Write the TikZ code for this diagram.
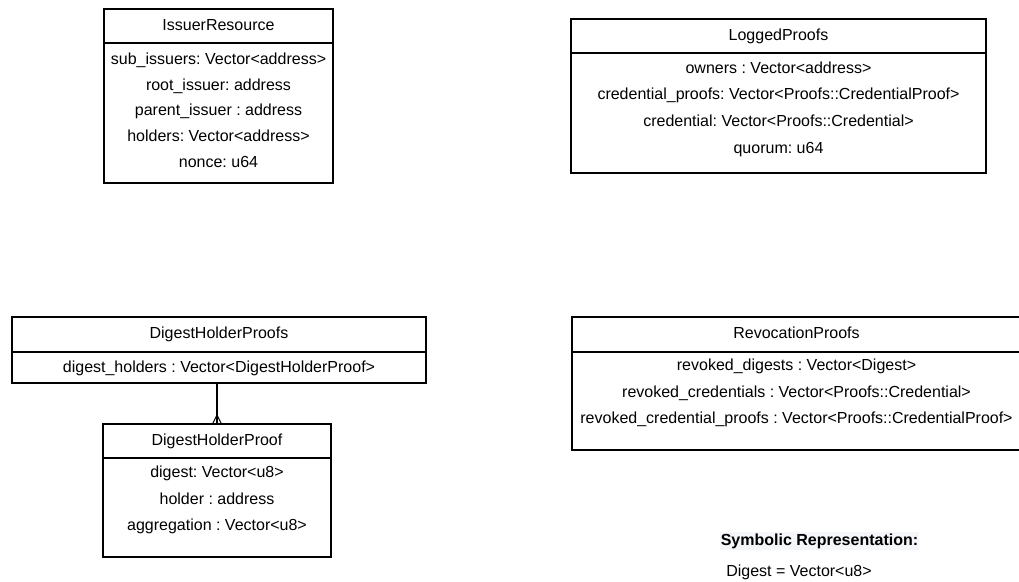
\documentclass[tikz,border=0pt]{standalone}
\usepackage{fontspec}
\setmainfont{Liberation Sans}
\usetikzlibrary{positioning}
\frenchspacing

\definecolor{notebg}{RGB}{245,246,249}

\begin{document}
\begin{tikzpicture}[x=1pt, y=-1pt,
  classhead/.style={draw, line width=1.1pt, outer sep=0pt, inner sep=0pt, minimum height=34pt,
    text height=11.5pt, text depth=3.4pt, font=\fontsize{16}{19}\selectfont},
  classbody/.style={draw, line width=1.1pt, outer sep=0pt, inner sep=0pt},
  fields/.style={align=center, inner sep=0pt, font=\fontsize{16}{#1}\selectfont},
  fields/.default=26.7,
  link/.style={line width=1.1pt}]

\useasboundingbox (0,0) rectangle (1019,581);

\node[classhead, minimum width=229pt] (issuer) at (218.5,26) {IssuerResource};
\node[classbody, minimum width=229pt, minimum height=140pt, below=0pt of issuer] (issuer body) {};
\node[fields=25.75, below=9.5pt of issuer body.north] (issuer fields)
  {sub\_issuers: Vector<address>\\ root\_issuer: address\\ parent\_issuer : address\\
   holders: Vector<address>\\ nonce: u64};

\node[classhead, minimum width=415pt] (logged) at (778.5,36) {LoggedProofs};
\node[classbody, minimum width=415pt, minimum height=120pt, below=0pt of logged] (logged body) {};
\node[fields, below=8.5pt of logged body.north] (logged fields)
  {owners : Vector<address>\\ credential\_proofs: Vector<Proofs::CredentialProof>\\
   credential: Vector<Proofs::Credential>\\ quorum: u64};

\node[classhead, minimum width=414pt, minimum height=35pt] (dhps) at (219,334.5) {DigestHolderProofs};
\node[classbody, minimum width=414pt, minimum height=31pt, below=0pt of dhps] (dhps body) {};
\node[fields, below=8.5pt of dhps body.north] (dhps fields)
  {digest\_holders : Vector<DigestHolderProof>};

\node[classhead, minimum width=228pt] (dhp) at (217,441) {DigestHolderProof};
\node[classbody, minimum width=228pt, minimum height=99pt, below=0pt of dhp] (dhp body) {};
\node[fields, below=7.5pt of dhp body.north] (dhp fields)
  {digest: Vector<u8>\\ holder : address\\ aggregation : Vector<u8>};

\node[classhead, minimum width=449pt, minimum height=35pt] (revocation) at (796.5,334.5) {RevocationProofs};
\node[classbody, minimum width=449pt, minimum height=98pt, below=0pt of revocation] (revocation body) {};
\node[fields, below=6.5pt of revocation body.north] (revocation fields)
  {revoked\_digests : Vector<Digest>\\ revoked\_credentials : Vector<Proofs::Credential>\\
   revoked\_credential\_proofs : Vector<Proofs::CredentialProof>};

% one-to-many link
\draw[link] (dhps body.south -| dhp.north) -- (dhp.north);
\draw[link] ([xshift=-4.5pt]dhp.north) -- ([yshift=9pt]dhp.north) -- ([xshift=4.5pt]dhp.north);

\node[fill=notebg, inner xsep=0.5pt, inner ysep=1.5pt, font=\fontsize{16}{19}\selectfont\bfseries]
  (symbolic) at (819.5,541) {Symbolic Representation:};
\node[font=\fontsize{16}{19}\selectfont, inner sep=0pt] (digest) at (799,572) {Digest = Vector<u8>};

\end{tikzpicture}
\end{document}
